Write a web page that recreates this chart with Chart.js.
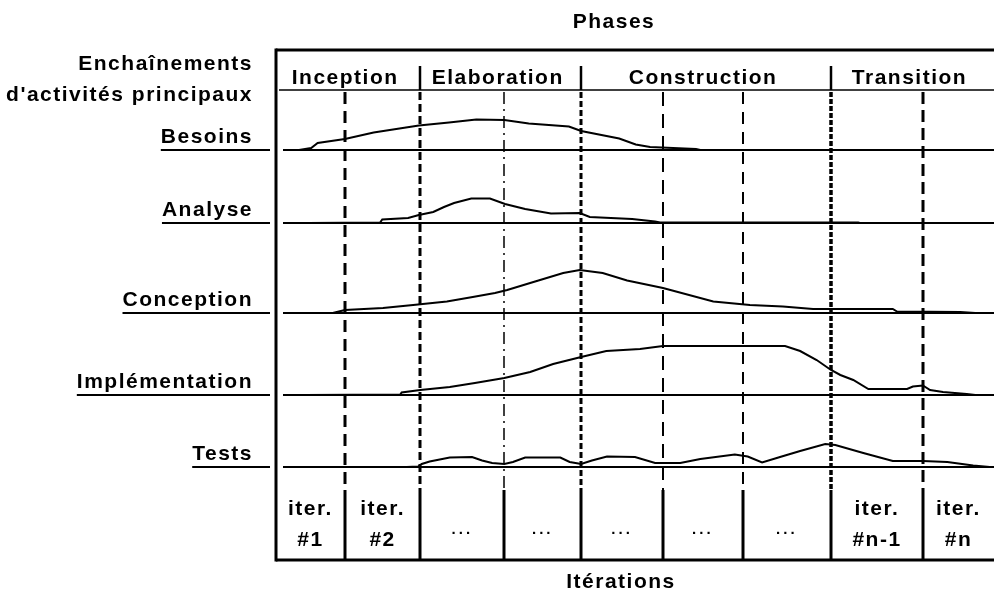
<!DOCTYPE html>
<html>
<head>
<meta charset="utf-8">
<title>Enchaînements d'activités principaux</title>
<script src="https://cdn.jsdelivr.net/npm/chart.js@4.4.1/dist/chart.umd.min.js"></script>
<style>
    html, body { margin: 0; padding: 0; background: #fff; }
    #wrap { width: 994px; height: 595px; }
</style>
</head>
<body>
<div id="wrap"><canvas id="rup-chart" width="994" height="595"></canvas></div>
<script>
// Workflows, top to bottom
const workflows = ['Besoins', 'Analyse', 'Conception', 'Implémentation', 'Tests'];

// Phases and where each one ends (percent of project time)
const phases = ['Inception', 'Elaboration', 'Construction', 'Transition'];
const phaseEnds = [20.1, 42.5, 77.3, 100];

// Iterations and where each one ends
const iterationEnds = [9.6, 20.1, 31.8, 42.5, 53.9, 65.0, 77.3, 90.1, 100];
const iterationLabels = [['iter.', '#1'], ['iter.', '#2'], ['...'], ['...'], ['...'], ['...'], ['...'], ['iter.', '#n-1'], ['iter.', '#n']];

// Effort curves: time (percent) and effort above the row baseline
const besoinsTime   = [3.2, 4.9, 5.8, 9.6, 13.6, 19.9, 24.1, 27.9, 31.8, 35.2, 40.8, 42.5, 47.8, 50.1, 52.1, 58.5, 59.1];
const besoinsEffort = [0, 2, 7, 11, 17.5, 24.5, 27.5, 30.5, 30, 26.5, 23.5, 19, 11.5, 5.5, 3, 1, 0];

const analyseTime   = [4.5, 14.5, 14.8, 18.4, 19.9, 21.9, 23.4, 24.8, 27.2, 29.8, 31.9, 34.7, 38.3, 42.3, 43.7, 49.6, 52.8, 53.5, 81.1, 81.3];
const analyseEffort = [0, 0.5, 3.5, 5, 8, 11, 16, 20, 24.5, 24.5, 19, 14, 9.5, 10, 6, 4, 1.5, 0.5, 0.5, 0];

const conceptionTime   = [7.9, 9.6, 14.9, 19.1, 23.8, 27.4, 30.5, 32.2, 35.4, 40.0, 42.3, 45.5, 48.9, 53.9, 60.9, 66.0, 70.6, 74.8, 85.9, 86.5, 95.3, 97.4];
const conceptionEffort = [0, 3, 5, 8, 11.5, 16, 20, 23, 30, 40, 43, 40, 32.5, 25, 11.5, 8, 6.5, 4, 4, 1.5, 1, 0];

const implementationTime   = [4.0, 17.3, 17.5, 20.1, 24.2, 27.7, 31.8, 35.4, 38.6, 42.5, 46.0, 50.7, 53.9, 70.9, 73.0, 75.3, 77.3, 78.6, 80.4, 82.5, 87.9, 88.7, 90.1, 91.1, 92.9, 96.2, 97.4];
const implementationEffort = [0, 0.5, 2.5, 5, 8, 12, 17, 23, 31, 38, 44, 46, 49, 49, 44, 35, 25, 20, 15, 6, 6, 8.5, 9.5, 5, 3, 1, 0];

const testsTime   = [18.2, 19.8, 20.3, 21.4, 24.2, 27.3, 28.7, 30.1, 31.8, 33.0, 34.7, 39.6, 40.9, 42.5, 44.0, 46.1, 50.0, 52.8, 56.3, 59.1, 63.9, 65.7, 67.7, 70.2, 73.0, 76.5, 77.9, 81.8, 85.9, 90.1, 93.5, 97.1, 99.4];
const testsEffort = [0, 0.5, 3, 5.5, 9.5, 10, 6.5, 4, 3, 5, 9.5, 9.5, 5, 3, 6.5, 10.5, 10, 4, 4, 8, 12.5, 10.5, 4.5, 10, 16, 23, 22, 14, 6, 6, 5, 1.5, 0];

// Layout: baseline level of each row on the vertical scale, header line level
const rowLevels = [410, 337, 247, 165, 93];
const headerLevel = 470;

const boundaryStyles = [
    { width: 3, dash: [12, 7] },
    { width: 3, dash: [8, 4] },
    { width: 1.5, dash: [12, 5, 2, 5] },
    { width: 3, dash: [6, 3] },
    { width: 2, dash: [14, 8] },
    { width: 2, dash: [12, 8] },
    { width: 3.5, dash: [5, 2] },
    { width: 3, dash: [12, 6] }
];

const FONT = '"Liberation Sans", Arial, sans-serif';

const curves = [
    [besoinsTime, besoinsEffort],
    [analyseTime, analyseEffort],
    [conceptionTime, conceptionEffort],
    [implementationTime, implementationEffort],
    [testsTime, testsEffort]
];

function strokeLine(ctx, x1, y1, x2, y2) {
    ctx.beginPath();
    ctx.moveTo(x1, y1);
    ctx.lineTo(x2, y2);
    ctx.stroke();
}

function drawText(ctx, s, x, y, align, font) {
    ctx.font = font;
    ctx.textAlign = align;
    ctx.textBaseline = 'alphabetic';
    ctx.fillText(s, x, y);
}

const framePlugin = {
    id: 'rupFrame',
    beforeDatasetsDraw(chart) {
        const { ctx, chartArea: a, scales: { x, y } } = chart;
        const headerY = Math.round(y.getPixelForValue(headerLevel));
        const solidFrom = a.bottom - 70;
        ctx.save();
        ctx.strokeStyle = '#000';

        // row baselines
        ctx.lineWidth = 2;
        rowLevels.forEach(level => {
            const py = Math.round(y.getPixelForValue(level));
            strokeLine(ctx, a.left + 7, py, a.right, py);
        });

        // header line
        ctx.lineWidth = 1.5;
        strokeLine(ctx, a.left + 3, headerY, a.right, headerY);

        // iteration boundaries
        iterationEnds.slice(0, -1).forEach((t, i) => {
            const px = Math.round(x.getPixelForValue(t));
            const st = boundaryStyles[i];
            ctx.lineWidth = st.width;
            ctx.setLineDash(st.dash);
            strokeLine(ctx, px, headerY + 2, px, solidFrom);
            ctx.setLineDash([]);
            ctx.lineWidth = 3;
            strokeLine(ctx, px, solidFrom, px, a.bottom);
        });

        // phase dividers in the header
        ctx.lineWidth = 2.5;
        phaseEnds.slice(0, -1).forEach(t => {
            const px = Math.round(x.getPixelForValue(t));
            strokeLine(ctx, px, a.top + 16, px, headerY);
        });

        // frame
        ctx.lineWidth = 3;
        strokeLine(ctx, a.left, a.top, a.right, a.top);
        strokeLine(ctx, a.left, a.top - 1.5, a.left, a.bottom + 1.5);
        strokeLine(ctx, a.left, a.bottom, a.right, a.bottom);
        ctx.restore();
    },
    afterDatasetsDraw(chart) {
        const { ctx, chartArea: a, scales: { x, y } } = chart;
        const bold = 'bold 21px ' + FONT;
        ctx.save();
        ctx.fillStyle = '#000';
        ctx.strokeStyle = '#000';
        ctx.letterSpacing = '1.5px';

        drawText(ctx, 'Phases', 614, 28, 'center', bold);
        drawText(ctx, 'Itérations', 621, 588, 'center', bold);

        // phase labels
        phases.forEach((p, i) => {
            const start = i === 0 ? 0 : phaseEnds[i - 1];
            const cx = (x.getPixelForValue(start) + x.getPixelForValue(phaseEnds[i])) / 2;
            drawText(ctx, p, cx - 3, 84, 'center', bold);
        });

        // left header
        const labelRight = a.left - 23;
        drawText(ctx, 'Enchaînements', labelRight, 70, 'right', bold);
        drawText(ctx, "d'activités principaux", labelRight, 101, 'right', bold);

        // workflow labels with underline
        workflows.forEach((w, i) => {
            const py = Math.round(y.getPixelForValue(rowLevels[i]));
            drawText(ctx, w, labelRight, py - 7, 'right', bold);
            const wd = ctx.measureText(w).width;
            ctx.lineWidth = 2;
            strokeLine(ctx, labelRight - wd, py, a.left - 6, py);
        });

        // iteration labels
        iterationLabels.forEach((lab, i) => {
            const start = i === 0 ? 0 : iterationEnds[i - 1];
            const cx = (x.getPixelForValue(start) + x.getPixelForValue(iterationEnds[i])) / 2;
            if (lab.length === 2) {
                drawText(ctx, lab[0], cx, 515, 'center', bold);
                drawText(ctx, lab[1], cx, 546, 'center', bold);
            } else {
                ctx.letterSpacing = '3px';
                drawText(ctx, lab[0], cx, 534, 'center', 'bold 15px ' + FONT);
                ctx.letterSpacing = '1.5px';
            }
        });
        ctx.restore();
    }
};

new Chart(document.getElementById('rup-chart'), {
    type: 'line',
    data: {
        datasets: curves.map(([t, e], i) => ({
            label: workflows[i],
            data: t.map((tv, k) => ({ x: tv, y: rowLevels[i] + e[k] })),
            borderColor: '#000',
            borderWidth: 2,
            pointRadius: 0,
            tension: 0,
            fill: false
        }))
    },
    options: {
        responsive: false,
        animation: false,
        devicePixelRatio: 1,
        layout: { padding: { left: 276, top: 50, right: 0, bottom: 35 } },
        plugins: { legend: { display: false }, tooltip: { enabled: false } },
        scales: {
            x: { type: 'linear', min: 0, max: 100, display: false },
            y: { type: 'linear', min: 0, max: 510, display: false }
        }
    },
    plugins: [framePlugin]
});
</script>
</body>
</html>
